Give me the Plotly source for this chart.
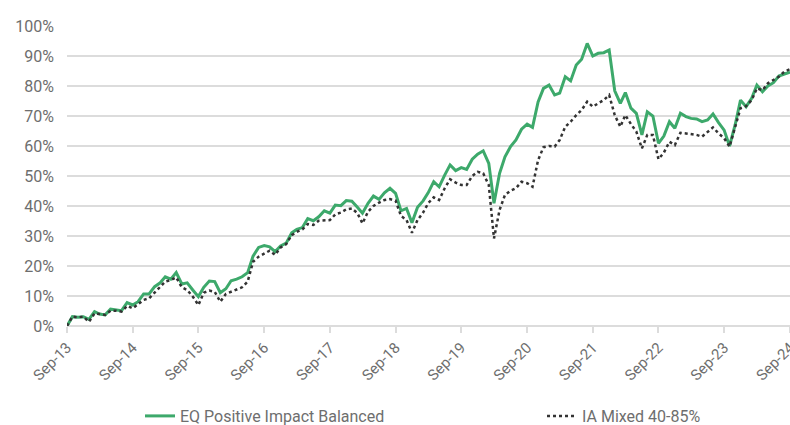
import pandas as pd
import plotly.graph_objects as go

dates = pd.date_range("2013-09-01", "2024-09-01", freq="MS")

eq_positive_impact = [
    0.0, 3.1, 2.9, 3.1, 2.2, 4.8, 4.0, 3.7, 5.6, 5.3, 5.1, 7.8, 7.0, 8.1, 10.7, 10.7,
    13.1, 14.4, 16.4, 15.6, 17.8, 14.0, 14.4, 12.0, 9.8, 12.9, 15.0, 14.8, 11.1, 12.4,
    15.1, 15.6, 16.4, 17.8, 23.3, 26.2, 26.8, 26.4, 24.8, 26.7, 27.6, 31.1, 32.2, 32.8,
    35.8, 35.1, 36.4, 38.4, 37.6, 40.3, 40.1, 41.8, 41.6, 39.6, 37.6, 40.9, 43.3, 42.2,
    44.4, 45.9, 44.2, 38.4, 39.2, 34.4, 39.6, 41.7, 44.4, 48.1, 46.4, 50.3, 53.7, 51.8,
    52.8, 52.2, 55.6, 57.3, 58.4, 54.2, 40.9, 50.9, 56.4, 59.8, 62.0, 65.6, 67.3, 66.2,
    74.7, 79.2, 80.3, 77.0, 77.6, 83.1, 81.7, 87.0, 88.9, 94.2, 90.0, 90.9, 91.1, 92.0,
    78.4, 74.2, 77.8, 72.6, 70.9, 63.7, 71.4, 70.0, 60.9, 63.3, 68.1, 65.9, 70.9, 69.8,
    69.2, 69.0, 68.1, 68.7, 70.7, 67.8, 65.3, 60.0, 67.0, 75.3, 73.1, 75.9, 80.3, 78.1,
    80.0, 81.1, 83.3, 84.0, 84.6,
]

ia_mixed = [
    0.0, 3.1, 2.9, 3.1, 1.4, 4.2, 4.0, 3.7, 5.1, 5.1, 4.8, 6.7, 5.9, 7.3, 8.7, 9.2,
    11.1, 12.9, 14.8, 15.3, 16.2, 12.9, 12.0, 9.8, 7.0, 11.1, 11.8, 11.4, 8.1, 10.7,
    11.4, 12.2, 12.9, 14.8, 21.4, 23.1, 24.2, 25.1, 23.7, 26.2, 27.3, 30.3, 31.4, 32.2,
    34.0, 33.7, 35.1, 35.3, 35.3, 37.2, 37.8, 38.9, 39.2, 37.6, 34.2, 38.1, 40.0, 41.1,
    42.0, 42.3, 41.8, 36.7, 35.3, 31.1, 35.3, 37.8, 40.9, 42.9, 42.0, 45.9, 48.9, 47.8,
    47.0, 47.0, 50.0, 51.4, 50.9, 47.0, 29.2, 38.7, 43.7, 45.1, 45.9, 48.1, 47.6, 46.4,
    55.3, 59.6, 60.0, 59.8, 62.0, 66.4, 68.1, 70.3, 72.0, 74.8, 73.1, 74.2, 75.3, 77.0,
    70.3, 66.4, 70.3, 67.3, 64.8, 59.2, 63.7, 63.7, 55.6, 57.8, 61.4, 60.3, 64.4, 64.2,
    64.0, 63.7, 63.1, 64.8, 66.2, 64.2, 62.6, 59.8, 66.4, 72.6, 73.3, 75.3, 79.2, 78.6,
    80.9, 82.0, 83.1, 84.8, 85.6,
]

series_names = ["EQ Positive Impact Balanced", "IA Mixed 40-85%"]
y_ticks = [0, 10, 20, 30, 40, 50, 60, 70, 80, 90, 100]
y_tick_labels = [f"{v}%" for v in y_ticks]

FONT = "Roboto"
GREY = "#6e6e6e"
GRID = "#dcdcdc"

fig = go.Figure()
fig.add_trace(go.Scatter(
    x=dates, y=eq_positive_impact, name=series_names[0], mode="lines",
    line=dict(color="#3da96b", width=3), legend="legend",
))
fig.add_trace(go.Scatter(
    x=dates, y=ia_mixed, name=series_names[1], mode="lines",
    line=dict(color="#333333", width=2.5, dash="dot"), legend="legend2",
))

leg_font = dict(family=FONT, size=16, color=GREY)
fig.update_layout(
    width=790, height=425,
    margin=dict(l=67, r=0, t=26, b=99, autoexpand=False),
    paper_bgcolor="white", plot_bgcolor="white",
    font=dict(family=FONT, color=GREY, size=16),
    showlegend=True,
    legend=dict(
        orientation="h", x=0.101, xanchor="left", y=-0.3, yanchor="middle",
        font=leg_font, bgcolor="rgba(0,0,0,0)",
    ),
    legend2=dict(
        orientation="h", x=0.657, xanchor="left", y=-0.3, yanchor="middle",
        font=leg_font, bgcolor="rgba(0,0,0,0)",
    ),
)
fig.update_xaxes(
    type="date", range=[dates[0], dates[-1]], automargin=False,
    tick0="2013-09-01", dtick="M12", tickformat="%b-%y",
    tickangle=-45, ticks="outside", ticklen=6, tickcolor=GRID, tickwidth=1.5,
    ticklabeloverflow="allow",
    showgrid=False, showline=False, zeroline=False,
    tickfont=dict(family=FONT, size=15, color=GREY),
)
fig.update_yaxes(
    range=[0, 100], tickvals=y_ticks, ticktext=y_tick_labels, automargin=False,
    showgrid=True, gridcolor=GRID, gridwidth=1.5,
    zeroline=True, zerolinecolor=GRID, zerolinewidth=1.5,
    ticks="", ticklabelstandoff=12,
    tickfont=dict(family=FONT, size=16, color=GREY),
)

fig.write_html(
    "out.html",
    config={"displayModeBar": False},
    post_script="document.body.style.margin='0';document.body.style.overflow='hidden';",
)
